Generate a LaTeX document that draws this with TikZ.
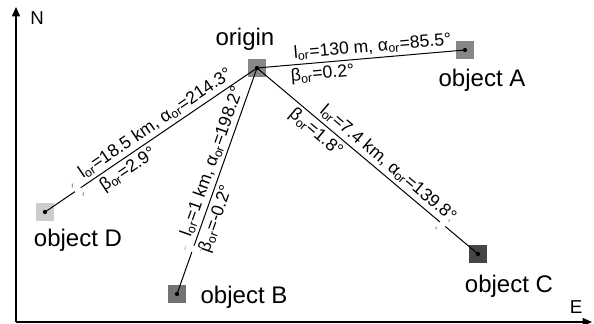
\documentclass[tikz,border=0pt]{standalone}
\usepackage{fontspec}
\setmainfont{Liberation Sans}
\usetikzlibrary{arrows.meta}
\tikzset{
  obj/.style={rectangle, inner sep=0pt, minimum size=18*0.75pt, draw=none},
  dotc/.style={circle, fill=black, inner sep=0pt, minimum size=3.2pt},
  conn/.style={line width=0.75pt},
  lab/.style={font=\fontsize{13.2}{15}\selectfont, inner sep=2.4pt},
  namelab/.style={font=\fontsize{18}{20}\selectfont, inner sep=0pt},
  axislab/.style={font=\fontsize{14}{16}\selectfont, inner sep=0pt},
  axis/.style={line width=1.1pt, -{Triangle[length=7pt,width=6pt]}},
  breakmark/.style={sloped, fill=white, inner sep=0pt, minimum width=5pt, minimum height=12pt,
    path picture={\draw[black!40, line width=0.9pt]
      ([xshift=0.6pt]path picture bounding box.south west) -- ([xshift=2pt]path picture bounding box.north west)
      ([xshift=-2pt]path picture bounding box.south east) -- ([xshift=-0.6pt]path picture bounding box.north east);}}
}
\newcommand{\sor}{\textsubscript{or}}
\begin{document}
\begin{tikzpicture}[x=0.75pt,y=-0.75pt]
\useasboundingbox (0,0) rectangle (594,324);
% axes
\coordinate (ax0) at (16,322);
\coordinate (axN) at (16,7);
\coordinate (axE) at (592,322);
\draw[axis] (ax0) -- (axN);
\draw[axis] (ax0) -- (axE);
\node[axislab] (N) at (37,18) {N};
\node[axislab] (E) at (576,307) {E};
% objects
\node[obj, fill=black!47] (o) at (257,68) {};
\node[obj, fill=black!47] (a) at (465,50) {};
\node[obj, fill=black!20] (d) at (45,212) {};
\node[obj, fill=black!55] (b) at (177,294) {};
\node[obj, fill=black!73] (c) at (478,254) {};
% connectors
\draw[conn] (o.center) -- (a.center)
  node[lab, sloped, above, pos=0.56] (la) {l\sor=130 m, α\sor=85.5°}
  node[lab, sloped, below, pos=0.31] (ba) {β\sor=0.2°};
\draw[conn] (o.center) -- (d.center)
  node[lab, sloped, above, pos=0.45] (ld) {l\sor=18.5 km, α\sor=214.3°}
  node[lab, sloped, below, pos=0.64] (bd) {β\sor=2.9°}
  node[breakmark, pos=0.845] (kd) {};
\draw[conn] (o.center) -- (b.center)
  node[lab, sloped, above, pos=0.43] (lb) {l\sor=1 km, α\sor=198.2°}
  node[lab, sloped, below, pos=0.65] (bb) {β\sor=-0.2°}
  node[breakmark, pos=0.8] (kb) {};
\draw[conn] (o.center) -- (c.center)
  node[lab, sloped, above, pos=0.56] (lc) {l\sor=7.4 km, α\sor=139.8°}
  node[lab, sloped, below, pos=0.3] (bc) {β\sor=1.8°}
  node[breakmark, pos=0.84] (kc) {};
% dots
\foreach \n in {o,a,d,b,c} \node[dotc] (dot\n) at (\n.center) {};
% names
\node[namelab] (to) at (245,39) {origin};
\node[namelab] (ta) at (482,80) {object A};
\node[namelab] (td) at (78,240) {object D};
\node[namelab] (tb) at (244,297) {object B};
\node[namelab] (tc) at (509,286) {object C};
\end{tikzpicture}
\end{document}
